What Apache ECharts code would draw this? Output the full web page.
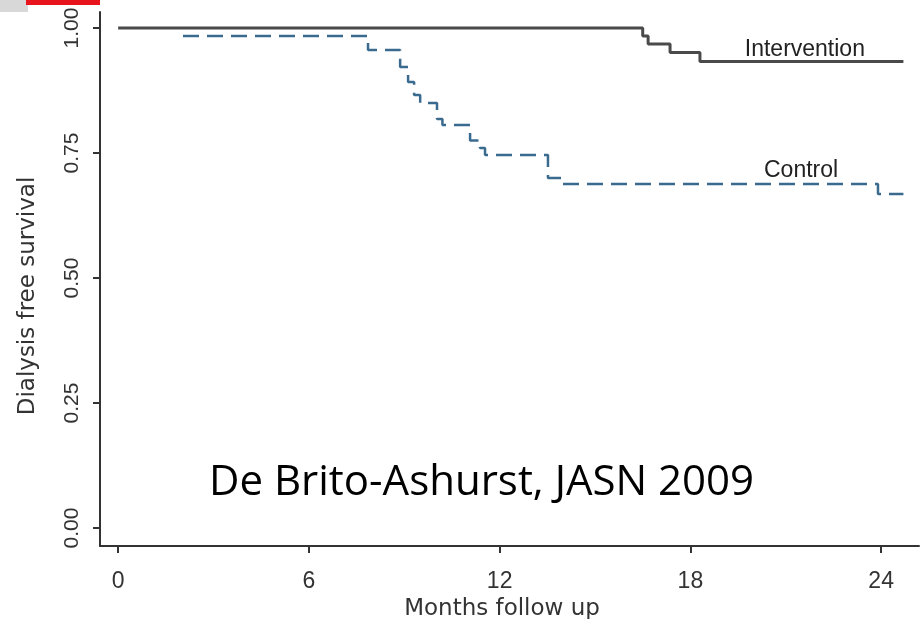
<!DOCTYPE html>
<html>
<head>
<meta charset="utf-8">
<script src="https://cdn.jsdelivr.net/npm/echarts@6/dist/echarts.min.js"></script>
<style>
html,body{margin:0;padding:0;background:#fff;}
#chart{width:922px;height:619px;}
</style>
</head>
<body>
<div id="chart"></div>
<script>
// ---- data ----
// Control curve is hidden under the Intervention line until its first event, so it is drawn from there
var controlMonths = [2.04, 7.86, 8.87, 9.12, 9.31, 9.5, 10.03, 10.2, 11.07, 11.38, 11.54, 13.52, 13.99, 23.9, 24.7];
var controlSurvival = [0.984, 0.956, 0.922, 0.892, 0.866, 0.85, 0.818, 0.806, 0.775, 0.76, 0.746, 0.70, 0.688, 0.668, 0.668];
var interventionMonths = [0, 16.5, 16.67, 17.36, 18.3, 24.7];
var interventionSurvival = [1, 0.984, 0.968, 0.951, 0.933, 0.933];
var xTicks = [0, 6, 12, 18, 24];
var yTicks = [0, 0.25, 0.5, 0.75, 1];
var seriesNames = ['Control', 'Intervention'];
var labelPos = { Intervention: [21.6, 0.956], Control: [21.48, 0.714] };
var xTitle = 'Months follow up';
var yTitle = 'Dialysis free survival';
var note = 'De Brito-Ashurst, JASN 2009';

function pairs(xs, ys) { return xs.map(function (x, i) { return [x, ys[i]]; }); }

var chart = echarts.init(document.getElementById('chart'), null, { renderer: 'canvas' });
var tickFont = "'Liberation Sans', Arial, sans-serif";
var nameFont = "'DejaVu Sans', sans-serif";

function lblMark(name) {
  return {
    symbol: 'circle', symbolSize: 0, silent: true,
    label: { show: true, position: 'inside', formatter: name, color: '#222', fontFamily: tickFont, fontSize: 23 },
    data: [{ coord: labelPos[name] }]
  };
}

chart.setOption({
  animation: false,
  backgroundColor: '#fff',
  grid: { left: 100, right: 3, top: 12, bottom: 73, containLabel: false, outerBoundsMode: 'none' },
  xAxis: {
    type: 'value', min: -0.57, max: 25.19,
    name: xTitle, nameLocation: 'middle', nameGap: 48,
    nameTextStyle: { fontFamily: nameFont, fontSize: 23, color: '#333', padding: [0, 15, 0, 0] },
    axisLine: { show: true, onZero: false, lineStyle: { color: '#333', width: 2 } },
    axisTick: { show: true, customValues: xTicks, length: 7, lineStyle: { color: '#333', width: 2 } },
    axisLabel: { customValues: xTicks, margin: 24, fontFamily: tickFont, fontSize: 23, color: '#333' },
    splitLine: { show: false }
  },
  yAxis: {
    type: 'value', min: -0.036, max: 1.032,
    name: yTitle, nameLocation: 'middle', nameGap: 60,
    nameTextStyle: { fontFamily: nameFont, fontSize: 23, color: '#333', padding: [0, 34, 0, 0] },
    axisLine: { show: true, onZero: false, lineStyle: { color: '#333', width: 2 } },
    axisTick: { show: true, customValues: yTicks, length: 7, lineStyle: { color: '#333', width: 2 } },
    axisLabel: {
      customValues: yTicks, rotate: 90, margin: 17, fontFamily: tickFont, fontSize: 21, color: '#333',
      formatter: function (v) { return Number(v).toFixed(2); }
    },
    splitLine: { show: false }
  },
  series: [
    {
      name: seriesNames[0], type: 'line', step: 'end', showSymbol: false, z: 2,
      data: pairs(controlMonths, controlSurvival),
      lineStyle: { color: '#3b6a8f', width: 2.5, type: [16, 8] },
      markPoint: lblMark('Control')
    },
    {
      name: seriesNames[1], type: 'line', step: 'end', showSymbol: false, z: 3,
      data: pairs(interventionMonths, interventionSurvival),
      lineStyle: { color: '#4a4a4a', width: 3 },
      markPoint: lblMark('Intervention')
    }
  ],
  graphic: [
    { type: 'rect', left: 0, top: 0, shape: { width: 28, height: 12 }, style: { fill: '#d8d8d8' }, silent: true },
    { type: 'rect', left: 26, top: 0, shape: { width: 74, height: 5 }, style: { fill: '#e8141b' }, silent: true },
    { type: 'text', left: 209, top: 462, style: { text: note, fontFamily: "'Open Sans', sans-serif", fontSize: 42, fill: '#000' } }
  ]
});
</script>
</body>
</html>
